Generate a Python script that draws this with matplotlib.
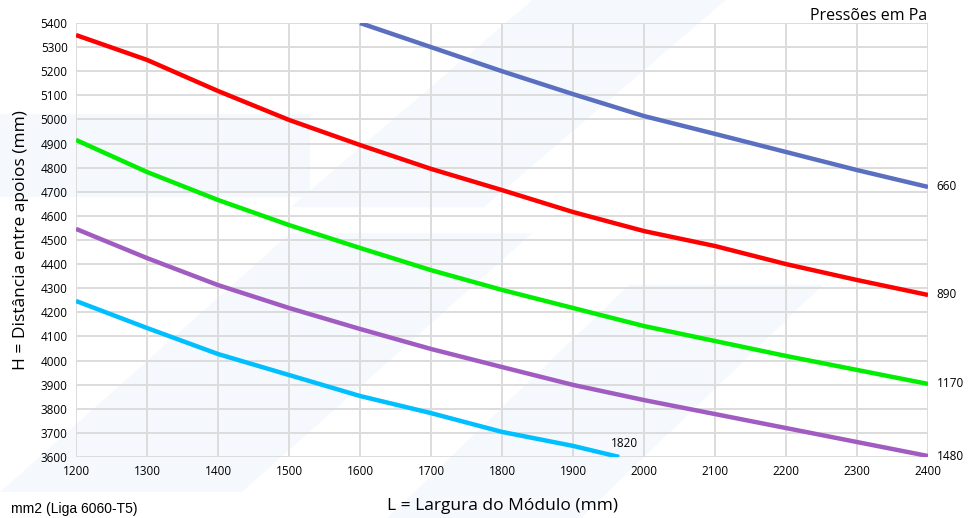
import matplotlib.pyplot as plt
from matplotlib.patches import Polygon

plt.rcParams['font.family'] = ['Open Sans', 'DejaVu Sans']

# dados
L = [1200, 1300, 1400, 1500, 1600, 1700, 1800, 1900, 2000, 2100, 2200, 2300, 2400]

L_660 = [1600, 1700, 1800, 1900, 2000, 2100, 2200, 2300, 2400]
H_660 = [5400, 5300, 5200, 5105, 5014, 4940, 4865, 4790, 4720]

H_890 = [5350, 5247, 5118, 4998, 4894, 4795, 4707, 4616, 4537, 4475, 4400, 4334, 4272]
H_1170 = [4915, 4782, 4666, 4562, 4467, 4375, 4293, 4218, 4143, 4081, 4019, 3961, 3903]
H_1480 = [4546, 4425, 4313, 4218, 4131, 4048, 3973, 3899, 3836, 3778, 3720, 3662, 3604]

L_1820 = [1200, 1300, 1400, 1500, 1600, 1700, 1800, 1900, 1965]
H_1820 = [4247, 4135, 4027, 3940, 3853, 3782, 3704, 3646, 3600]

fig = plt.figure(figsize=(9.68, 5.18), dpi=100)

# marca d'água clara no fundo
wm = '#f5f9fd'
for pts in [[(0.0, 0.05), (0.25, 0.05), (0.55, 0.55), (0.30, 0.55)],
            [(0.40, 0.0), (0.60, 0.0), (0.85, 0.45), (0.65, 0.45)],
            [(0.30, 0.60), (0.50, 0.60), (0.75, 1.0), (0.55, 1.0)],
            [(0.0, 0.62), (0.32, 0.62), (0.32, 0.78), (0.0, 0.78)]]:
    fig.patches.append(Polygon(pts, closed=True, transform=fig.transFigure,
                               facecolor=wm, edgecolor='none', zorder=-5))

ax = fig.add_axes([0.0785, 0.1178, 0.8802, 0.8378])
ax.set_facecolor('none')

lw = 3.2
ax.plot(L_660, H_660, color='#5a6fbf', lw=lw, solid_capstyle='butt')
ax.plot(L, H_890, color='#ff0000', lw=lw, solid_capstyle='butt')
ax.plot(L, H_1170, color='#00ee00', lw=lw, solid_capstyle='butt')
ax.plot(L, H_1480, color='#a05cc0', lw=lw, solid_capstyle='butt')
ax.plot(L_1820, H_1820, color='#00bfff', lw=lw, solid_capstyle='butt')

ax.set_xlim(1200, 2400)
ax.set_ylim(3600, 5400)
ax.set_xticks(range(1200, 2401, 100))
ax.set_yticks(range(3600, 5401, 100))
ax.grid(True, color='#dcdcdc', lw=1.4)
ax.set_axisbelow(True)
for s in ax.spines.values():
    s.set_visible(False)
ax.tick_params(length=0, labelsize=8.5, pad=6)

ax.set_xlabel('L = Largura do Módulo (mm)', fontsize=12.5, labelpad=14)
ax.set_ylabel('H = Distância entre apoios (mm)', fontsize=12.5, labelpad=8)

# rótulos das pressões
ax.text(2412, H_660[-1], '660', fontsize=8.5, va='center')
ax.text(2412, H_890[-1], '890', fontsize=8.5, va='center')
ax.text(2412, H_1170[-1], '1170', fontsize=8.5, va='center')
ax.text(2412, H_1480[-1], '1480', fontsize=8.5, va='center')
ax.text(1973, 3655, '1820', fontsize=8.5, ha='center', va='center')

fig.text(0.958, 0.985, 'Pressões em Pa', fontsize=11.5, ha='right', va='top')
fig.text(0.142, 0.004, 'mm2 (Liga 6060-T5)', fontsize=10, ha='right', va='bottom',
         family=['Liberation Sans', 'DejaVu Sans'])

fig.savefig('out.png', dpi=100)
